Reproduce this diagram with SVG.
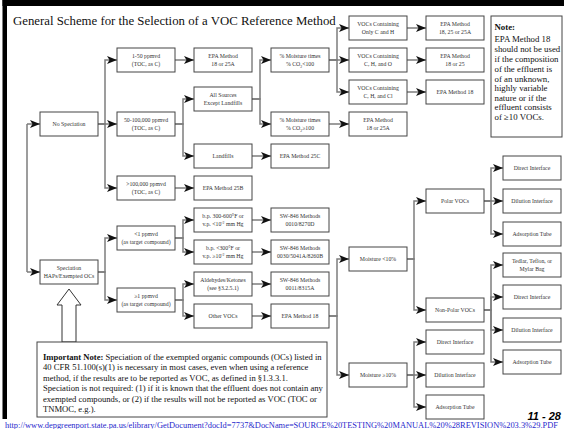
<svg xmlns="http://www.w3.org/2000/svg" width="564" height="429" viewBox="0 0 564 429">
<defs>
<marker id="ah" markerUnits="userSpaceOnUse" markerWidth="10" markerHeight="8" viewBox="0 0 10 8" refX="10" refY="4" orient="auto">
<path d="M0,0 L10,4 L0,8 L2.5,4 z" fill="#111"/>
</marker>
<style>
.b{fill:#fff;stroke:#444;stroke-width:1}
.t{font-family:"Liberation Serif","Times New Roman",serif;font-size:5.8px;fill:#333;text-anchor:middle}
.c{fill:none;stroke:#7d7d7d;stroke-width:1.5}
.a{marker-end:url(#ah)}
.n{font-family:"Liberation Serif","Times New Roman",serif;font-size:8.8px;fill:#111}
.i{font-family:"Liberation Serif","Times New Roman",serif;font-size:8.6px;fill:#111}
</style>
</defs>
<rect width="564" height="429" fill="#fff"/>
<rect x="2.5" y="0" width="4.5" height="419" fill="#000"/>
<rect x="2.5" y="0" width="561.5" height="6" fill="#000"/>
<text x="13" y="25" font-family="Liberation Serif, Times New Roman, serif" font-size="12.8" fill="#111">General Scheme for the Selection of a VOC Reference Method</text>

<g id="connectors">
<path class="c" d="M27,124 V272"/>
<path class="c a" d="M27,124 H40"/>
<path class="c a" d="M27,272 H40"/>
<path class="c a" d="M98,124 H105 V60 H117"/>
<path class="c a" d="M98,124 H117"/>
<path class="c a" d="M98,124 H105 V188 H117"/>
<path class="c a" d="M98,272 H105 V238 H117"/>
<path class="c a" d="M98,272 H105 V300 H117"/>
<path class="c a" d="M175,60 H194"/>
<path class="c a" d="M175,124 H183 V99 H194"/>
<path class="c a" d="M175,124 H183 V156 H194"/>
<path class="c a" d="M175,188 H194"/>
<path class="c a" d="M175,238 H183 V220 H194"/>
<path class="c a" d="M175,238 H183 V252 H194"/>
<path class="c a" d="M175,300 H183 V284 H194"/>
<path class="c a" d="M175,300 H183 V316 H194"/>
<path class="c a" d="M252,99 H260 V60 H271"/>
<path class="c a" d="M252,99 H260 V124 H271"/>
<path class="c a" d="M252,156 H271"/>
<path class="c a" d="M252,220 H271"/>
<path class="c a" d="M252,252 H271"/>
<path class="c a" d="M252,284 H271"/>
<path class="c a" d="M252,316 H271"/>
<path class="c a" d="M329,60 H337 V28 H349"/>
<path class="c a" d="M329,60 H349"/>
<path class="c a" d="M329,60 H337 V92 H349"/>
<path class="c a" d="M329,124 H349"/>
<path class="c a" d="M329,316 H337 V259 H349"/>
<path class="c a" d="M329,316 H337 V375 H349"/>
<path class="c a" d="M407,28 H426"/>
<path class="c a" d="M407,60 H426"/>
<path class="c a" d="M407,92 H426"/>
<path class="c a" d="M407,259 H414 V201 H426"/>
<path class="c a" d="M407,259 H414 V310 H426"/>
<path class="c a" d="M407,375 H414 V342 H426"/>
<path class="c a" d="M407,375 H426"/>
<path class="c a" d="M407,375 H414 V407 H426"/>
<path class="c a" d="M484,201 H491 V168 H503"/>
<path class="c a" d="M484,201 H503"/>
<path class="c a" d="M484,201 H491 V234 H503"/>
<path class="c a" d="M484,310 H491 V265 H503"/>
<path class="c a" d="M484,310 H491 V297 H503"/>
<path class="c a" d="M484,310 H491 V330 H503"/>
<path class="c a" d="M484,310 H491 V362 H503"/>
</g>

<g id="n_nospec"><rect class="b" x="40" y="112" width="58" height="24"/><text class="t" x="69" y="126">No Speciation</text></g>
<g id="n_spec"><rect class="b" x="40" y="260" width="58" height="24"/><text class="t" x="69" y="270">Speciation</text><text class="t" x="69" y="278">HAPs/Exempted OCs</text></g>

<g id="n_1_50"><rect class="b" x="117" y="48" width="58" height="24"/><text class="t" x="146" y="58">1-50 ppmvd</text><text class="t" x="146" y="66">(TOC, as C)</text></g>
<g id="n_50_100k"><rect class="b" x="117" y="112" width="58" height="24"/><text class="t" x="146" y="122">50-100,000 ppmvd</text><text class="t" x="146" y="130">(TOC, as C)</text></g>
<g id="n_gt100k"><rect class="b" x="117" y="176" width="58" height="24"/><text class="t" x="146" y="186">&gt;100,000 ppmvd</text><text class="t" x="146" y="194">(TOC, as C)</text></g>
<g id="n_lt1"><rect class="b" x="117" y="226" width="58" height="24"/><text class="t" x="146" y="236">&lt;1 ppmvd</text><text class="t" x="146" y="244">(as target compound)</text></g>
<g id="n_ge1"><rect class="b" x="117" y="288" width="58" height="24"/><text class="t" x="146" y="298">≥1 ppmvd</text><text class="t" x="146" y="306">(as target compound)</text></g>

<g id="n_m18_25a"><rect class="b" x="194" y="48" width="58" height="24"/><text class="t" x="223" y="58">EPA Method</text><text class="t" x="223" y="66">18 or 25A</text></g>
<g id="n_allsrc"><rect class="b" x="194" y="87" width="58" height="24"/><text class="t" x="223" y="97">All Sources</text><text class="t" x="223" y="105">Except Landfills</text></g>
<g id="n_landfills"><rect class="b" x="194" y="144" width="58" height="24"/><text class="t" x="223" y="158">Landfills</text></g>
<g id="n_m25b"><rect class="b" x="194" y="176" width="58" height="24"/><text class="t" x="223" y="190">EPA Method 25B</text></g>
<g id="n_bp300"><rect class="b" x="194" y="208" width="58" height="24"/><text class="t" x="223" y="218">b.p. 300-600°F or</text><text class="t" x="223" y="226">v.p. &lt;10<tspan font-size="3.8" dy="-2">-2</tspan><tspan dy="2"> mm Hg</tspan></text></g>
<g id="n_bplt300"><rect class="b" x="194" y="240" width="58" height="24"/><text class="t" x="223" y="250">b.p. &lt;300°F or</text><text class="t" x="223" y="258">v.p. ≥10<tspan font-size="3.8" dy="-2">-2</tspan><tspan dy="2"> mm Hg</tspan></text></g>
<g id="n_ald"><rect class="b" x="194" y="272" width="58" height="24"/><text class="t" x="223" y="282">Aldehydes/Ketones</text><text class="t" x="223" y="290">(see §3.2.5.1)</text></g>
<g id="n_othervoc"><rect class="b" x="194" y="304" width="58" height="24"/><text class="t" x="223" y="318">Other VOCs</text></g>

<g id="n_moist_lt100"><rect class="b" x="271" y="48" width="58" height="24"/><text class="t" x="300" y="58">% Moisture times</text><text class="t" x="300" y="66">% CO<tspan font-size="3.8" dy="1.5">2</tspan><tspan dy="-1.5">&lt;100</tspan></text></g>
<g id="n_moist_ge100"><rect class="b" x="271" y="112" width="58" height="24"/><text class="t" x="300" y="122">% Moisture times</text><text class="t" x="300" y="130">% CO<tspan font-size="3.8" dy="1.5">2</tspan><tspan dy="-1.5">≥100</tspan></text></g>
<g id="n_m25c"><rect class="b" x="271" y="144" width="58" height="24"/><text class="t" x="300" y="158">EPA Method 25C</text></g>
<g id="n_sw0010"><rect class="b" x="271" y="208" width="58" height="24"/><text class="t" x="300" y="218">SW-846 Methods</text><text class="t" x="300" y="226">0010/8270D</text></g>
<g id="n_sw0030"><rect class="b" x="271" y="240" width="58" height="24"/><text class="t" x="300" y="250">SW-846 Methods</text><text class="t" x="300" y="258">0030/5041A/8260B</text></g>
<g id="n_sw0011"><rect class="b" x="271" y="272" width="58" height="24"/><text class="t" x="300" y="282">SW-846 Methods</text><text class="t" x="300" y="290">0011/8315A</text></g>
<g id="n_m18a"><rect class="b" x="271" y="304" width="58" height="24"/><text class="t" x="300" y="318">EPA Method 18</text></g>

<g id="n_voc_ch"><rect class="b" x="349" y="16" width="58" height="24"/><text class="t" x="378" y="26">VOCs Containing</text><text class="t" x="378" y="34">Only C and H</text></g>
<g id="n_voc_cho"><rect class="b" x="349" y="48" width="58" height="24"/><text class="t" x="378" y="58">VOCs Containing</text><text class="t" x="378" y="66">C, H, and O</text></g>
<g id="n_voc_chcl"><rect class="b" x="349" y="80" width="58" height="24"/><text class="t" x="378" y="90">VOCs Containing</text><text class="t" x="378" y="98">C, H, and Cl</text></g>
<g id="n_m18_25a_b"><rect class="b" x="349" y="112" width="58" height="24"/><text class="t" x="378" y="122">EPA Method</text><text class="t" x="378" y="130">18 or 25A</text></g>
<g id="n_moist_lt10"><rect class="b" x="349" y="247" width="58" height="24"/><text class="t" x="378" y="261">Moisture &lt;10%</text></g>
<g id="n_moist_ge10"><rect class="b" x="349" y="363" width="58" height="24"/><text class="t" x="378" y="377">Moisture ≥10%</text></g>

<g id="n_m18_25_25a"><rect class="b" x="426" y="16" width="58" height="24"/><text class="t" x="455" y="26">EPA Method</text><text class="t" x="455" y="34">18, 25 or 25A</text></g>
<g id="n_m18_25"><rect class="b" x="426" y="48" width="58" height="24"/><text class="t" x="455" y="58">EPA Method</text><text class="t" x="455" y="66">18 or 25</text></g>
<g id="n_m18b"><rect class="b" x="426" y="80" width="58" height="24"/><text class="t" x="455" y="94">EPA Method 18</text></g>
<g id="n_polar"><rect class="b" x="426" y="189" width="58" height="24"/><text class="t" x="455" y="203">Polar VOCs</text></g>
<g id="n_nonpolar"><rect class="b" x="426" y="298" width="58" height="24"/><text class="t" x="455" y="312">Non-Polar VOCs</text></g>
<g id="n_direct3"><rect class="b" x="426" y="330" width="58" height="24"/><text class="t" x="455" y="344">Direct Interface</text></g>
<g id="n_dilution3"><rect class="b" x="426" y="363" width="58" height="24"/><text class="t" x="455" y="377">Dilution Interface</text></g>
<g id="n_adsorb3"><rect class="b" x="426" y="395" width="58" height="24"/><text class="t" x="455" y="409">Adsorption Tube</text></g>

<g id="n_direct1"><rect class="b" x="503" y="156" width="58" height="24"/><text class="t" x="532" y="170">Direct Interface</text></g>
<g id="n_dilution1"><rect class="b" x="503" y="189" width="58" height="24"/><text class="t" x="532" y="203">Dilution Interface</text></g>
<g id="n_adsorb1"><rect class="b" x="503" y="222" width="58" height="24"/><text class="t" x="532" y="236">Adsorption Tube</text></g>
<g id="n_tedlar"><rect class="b" x="503" y="253" width="58" height="24"/><text class="t" x="532" y="263">Tedlar, Teflon, or</text><text class="t" x="532" y="271">Mylar Bag</text></g>
<g id="n_direct2"><rect class="b" x="503" y="285" width="58" height="24"/><text class="t" x="532" y="299">Direct Interface</text></g>
<g id="n_dilution2"><rect class="b" x="503" y="318" width="58" height="24"/><text class="t" x="532" y="332">Dilution Interface</text></g>
<g id="n_adsorb2"><rect class="b" x="503" y="350" width="58" height="24"/><text class="t" x="532" y="364">Adsorption Tube</text></g>

<g id="note">
<rect class="b" x="491" y="16" width="71" height="121"/>
<text class="n" x="494.5" y="30" font-weight="bold">Note:</text>
<text class="n" x="494.5" y="42">EPA Method 18</text>
<text class="n" x="494.5" y="52">should not be used</text>
<text class="n" x="494.5" y="62">if the composition</text>
<text class="n" x="494.5" y="72">of the effluent is</text>
<text class="n" x="494.5" y="81.5">of an unknown,</text>
<text class="n" x="494.5" y="91">highly variable</text>
<text class="n" x="494.5" y="100.5">nature or if the</text>
<text class="n" x="494.5" y="110">effluent consists</text>
<text class="n" x="494.5" y="120">of ≥10 VOCs.</text>
</g>

<g id="important_note">
<polygon points="69,289 81,305 76,305 76,342 62,342 62,305 57,305" fill="#fff" stroke="#333" stroke-width="1"/>
<rect class="b" x="37" y="342" width="290" height="75"/>
<text class="i" x="43" y="359.5"><tspan font-weight="bold">Important Note:</tspan> Speciation of the exempted organic compounds (OCs) listed in</text>
<text class="i" x="43" y="370">40 CFR 51.100(s)(1) is necessary in most cases, even when using a reference</text>
<text class="i" x="43" y="380.5">method,  if the results are to be reported as VOC, as defined in §1.3.3.1.</text>
<text class="i" x="43" y="391">Speciation is not required: (1) if it is known that the effluent does not contain any</text>
<text class="i" x="43" y="401.5">exempted compounds, or (2) if the results will not be reported as VOC (TOC or</text>
<text class="i" x="43" y="412">TNMOC, e.g.).</text>
</g>

<text x="561" y="420" text-anchor="end" font-family="Liberation Sans, Arial, sans-serif" font-size="11" font-weight="bold" font-style="italic" fill="#000">11 - 28</text>
<text x="5" y="428" font-family="Liberation Serif, Times New Roman, serif" font-size="8" fill="#1f1fcc" text-decoration="underline" textLength="553" lengthAdjust="spacingAndGlyphs">http://www.depgreenport.state.pa.us/elibrary/GetDocument?docId=7737&amp;DocName=SOURCE%20TESTING%20MANUAL%20%28REVISION%203.3%29.PDF</text>
</svg>
